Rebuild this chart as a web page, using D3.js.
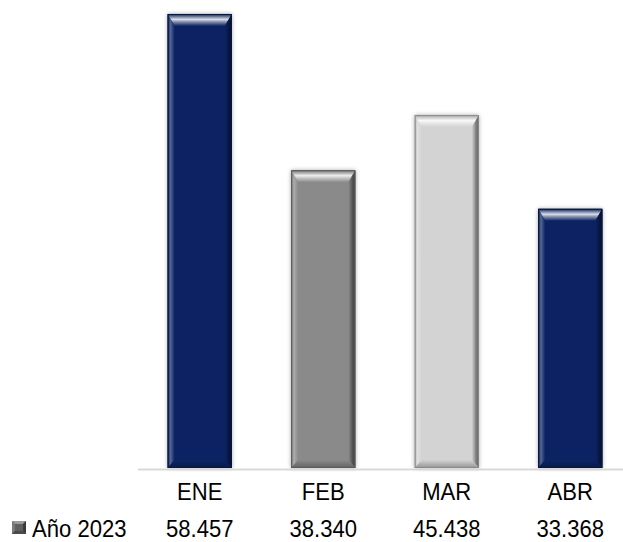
<!DOCTYPE html>
<html>
<head>
<meta charset="utf-8">
<script src="https://cdn.jsdelivr.net/npm/d3@7"></script>
<style>
  html, body { margin: 0; padding: 0; background: #fff; }
  svg { display: block; }
  text { font-family: "Liberation Sans", Arial, sans-serif; fill: #000; }
</style>
</head>
<body>
<script>
const categories = ["ENE", "FEB", "MAR", "ABR"];
const values = [58.457, 38.340, 45.438, 33.368];
const valueLabels = ["58.457", "38.340", "45.438", "33.368"];
const seriesName = "Año 2023";
const barColors = ["#0b2464", "#8a8a8a", "#d3d3d3", "#0b2464"];

const W = 623, H = 542;
const svg = d3.select("body").append("svg").attr("width", W).attr("height", H);
const defs = svg.append("defs");

const f = defs.append("filter").attr("id", "shadow")
  .attr("x", "-20%").attr("y", "-10%").attr("width", "140%").attr("height", "120%");
f.append("feDropShadow").attr("dx", 0).attr("dy", 0).attr("stdDeviation", 2.2)
  .attr("flood-color", "#000").attr("flood-opacity", 0.35);

const x = d3.scaleBand().domain(categories).range([138, 632]).paddingInner(0.48).paddingOuter(0.24);
const y = d3.scaleLinear().domain([0, 60]).range([468, 2]);

function mix(c, t, amt) { return d3.interpolateRgb(c, t)(amt); }

categories.forEach((c, i) => {
  const base = barColors[i];
  const light = mix(base, "#ffffff", 0.5);
  const lighter = mix(base, "#ffffff", 0.85);
  const dark = mix(base, "#000000", 0.55);
  const gTop = defs.append("linearGradient").attr("id", "gt" + i)
    .attr("x1", 0).attr("y1", 0).attr("x2", 0).attr("y2", 1);
  gTop.append("stop").attr("offset", 0).attr("stop-color", mix(base, "#000", 0.2));
  gTop.append("stop").attr("offset", 0.45).attr("stop-color", lighter);
  gTop.append("stop").attr("offset", 0.65).attr("stop-color", light);
  gTop.append("stop").attr("offset", 1).attr("stop-color", base);
  const gL = defs.append("linearGradient").attr("id", "gl" + i)
    .attr("x1", 0).attr("y1", 0).attr("x2", 1).attr("y2", 0);
  gL.append("stop").attr("offset", 0).attr("stop-color", mix(base, "#000", 0.15));
  gL.append("stop").attr("offset", 0.4).attr("stop-color", mix(base, "#fff", 0.3));
  gL.append("stop").attr("offset", 1).attr("stop-color", base);
  const gR = defs.append("linearGradient").attr("id", "gr" + i)
    .attr("x1", 0).attr("y1", 0).attr("x2", 1).attr("y2", 0);
  gR.append("stop").attr("offset", 0).attr("stop-color", base);
  gR.append("stop").attr("offset", 0.6).attr("stop-color", mix(base, "#000", 0.4));
  gR.append("stop").attr("offset", 1).attr("stop-color", dark);
  const gB = defs.append("linearGradient").attr("id", "gb" + i)
    .attr("x1", 0).attr("y1", 0).attr("x2", 0).attr("y2", 1);
  gB.append("stop").attr("offset", 0).attr("stop-color", base);
  gB.append("stop").attr("offset", 1).attr("stop-color", mix(base, "#000", 0.3));
});

const bars = svg.append("g");
categories.forEach((c, i) => {
  const x0 = x(c), w = x.bandwidth(), y0 = y(values[i]), y1 = y(0);
  const x1 = x0 + w;
  const bt = 12, bs = 7, bb = 8;
  const g = bars.append("g");
  g.append("rect").attr("x", x0).attr("y", y0).attr("width", w).attr("height", y1 - y0)
    .attr("fill", barColors[i]).attr("filter", "url(#shadow)");
  const poly = (pts, fill) => g.append("polygon").attr("points", pts.map(p => p.join(",")).join(" ")).attr("fill", fill);
  poly([[x0, y0], [x1, y0], [x1 - bs, y0 + bt], [x0 + bs, y0 + bt]], `url(#gt${i})`);
  poly([[x0, y0], [x0 + bs, y0 + bt], [x0 + bs, y1 - bb], [x0, y1]], `url(#gl${i})`);
  poly([[x1, y0], [x1, y1], [x1 - bs, y1 - bb], [x1 - bs, y0 + bt]], `url(#gr${i})`);
  poly([[x0, y1], [x0 + bs, y1 - bb], [x1 - bs, y1 - bb], [x1, y1]], `url(#gb${i})`);
  g.append("rect").attr("x", x0 + 0.5).attr("y", y0 + 0.5).attr("width", w - 1).attr("height", y1 - y0 - 1)
    .attr("fill", "none").attr("stroke", d3.interpolateRgb(barColors[i], "#000")(0.35)).attr("stroke-width", 1);
});

svg.append("line").attr("x1", 138).attr("x2", W).attr("y1", 469.5).attr("y2", 469.5)
  .attr("stroke", "#d9d9d9").attr("stroke-width", 2);

const sx = 0.92;
function label(txt, cx, by, size, anchor) {
  svg.append("text").attr("transform", `translate(${cx},${by}) scale(${sx},1)`)
    .attr("text-anchor", anchor).attr("font-size", size).text(txt);
}
categories.forEach((c, i) => label(c, x(c) + x.bandwidth() / 2, 499.5, 24, "middle"));
valueLabels.forEach((v, i) => label(v, x(categories[i]) + x.bandwidth() / 2, 537, 24, "middle"));

// legend key
const lk = svg.append("g");
lk.append("rect").attr("x", 12).attr("y", 521).attr("width", 14).attr("height", 13).attr("fill", "#5f5f5f");
lk.append("polygon").attr("points", "12,521 26,521 23,524 15,524").attr("fill", "#9a9a9a");
lk.append("polygon").attr("points", "12,521 15,524 15,531 12,534").attr("fill", "#7a7a7a");
lk.append("polygon").attr("points", "26,521 26,534 23,531 23,524").attr("fill", "#3a3a3a");
lk.append("polygon").attr("points", "12,534 15,531 23,531 26,534").attr("fill", "#4a4a4a");
label(seriesName, 32, 537, 24, "start");
</script>
</body>
</html>
